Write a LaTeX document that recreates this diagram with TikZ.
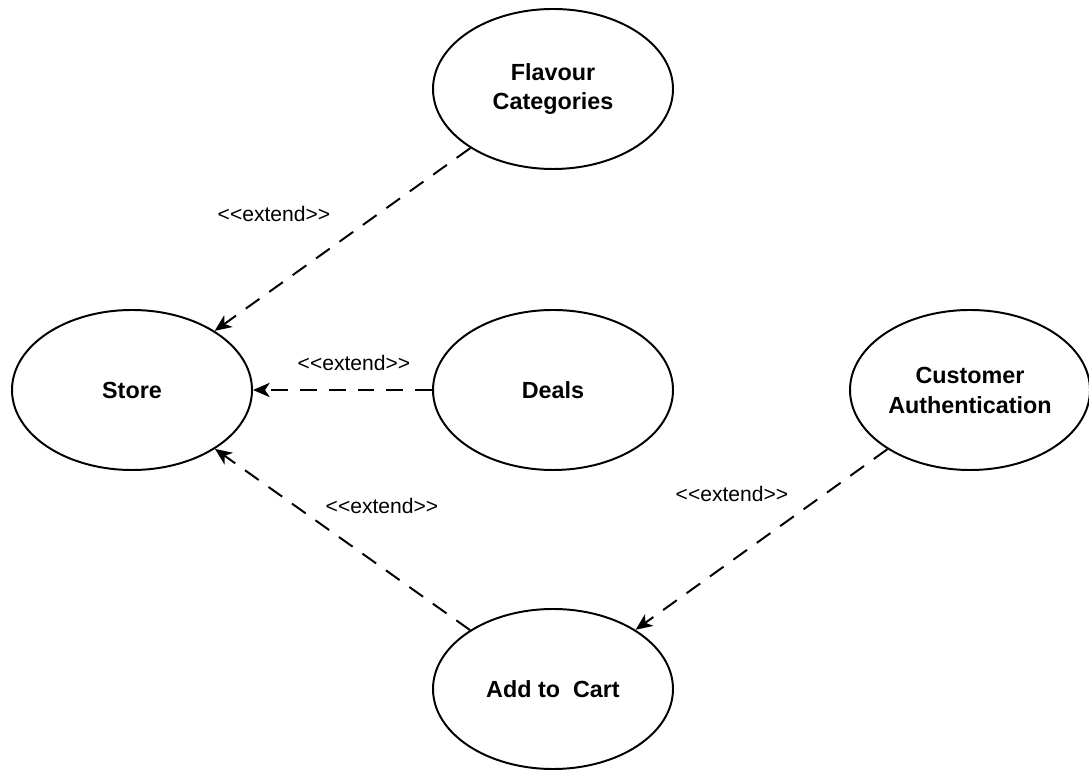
\documentclass[tikz,border=0pt]{standalone}
\usepackage{fontspec}
\setmainfont{Liberation Sans}
\usetikzlibrary{arrows.meta,shapes.geometric}
\tikzset{
	usecase/.style={ellipse, draw, line width=1.4pt, minimum width=6cm, minimum height=4cm, inner sep=0pt, align=center, font=\fontsize{16.6}{21.3}\selectfont\bfseries},
	extendarrow/.style={line width=1.4pt, dash pattern=on 0.42cm off 0.3cm, -{Stealth[length=0.42cm, width=0.36cm, inset=0.12cm]}},
	extendlabel/.style={font=\fontsize{15}{18}\selectfont, inner sep=0pt}
}

\begin{document}
\begin{tikzpicture}
			%%%%% START %%%%%
			
			\useasboundingbox (0, 0) rectangle (27.225, 19.225);
			
			\node[usecase] (flavour) at (13.825, 17.0) {Flavour\\Categories};
			\node[usecase] (store) at (3.3, 9.475) {Store};
			\node[usecase] (deals) at (13.825, 9.475) {Deals};
			\node[usecase] (auth) at (24.25, 9.475) {Customer\\Authentication};
			\node[usecase] (cart) at (13.825, 2.0) {Add to~ Cart};
			
			\draw[extendarrow] (flavour) -- (store);
			\draw[extendarrow] (deals) -- (store);
			\draw[extendarrow] (cart) -- (store);
			\draw[extendarrow] (auth) -- (cart);
			
			\node[extendlabel] (lblflavour) at (6.85, 13.875) {<{}<extend>{}>};
			\node[extendlabel] (lbldeals) at (8.85, 10.15) {<{}<extend>{}>};
			\node[extendlabel] (lblcart) at (9.55, 6.575) {<{}<extend>{}>};
			\node[extendlabel] (lblauth) at (18.3, 6.875) {<{}<extend>{}>};
			
			%%%%% END %%%%%
		\end{tikzpicture}
\end{document}
